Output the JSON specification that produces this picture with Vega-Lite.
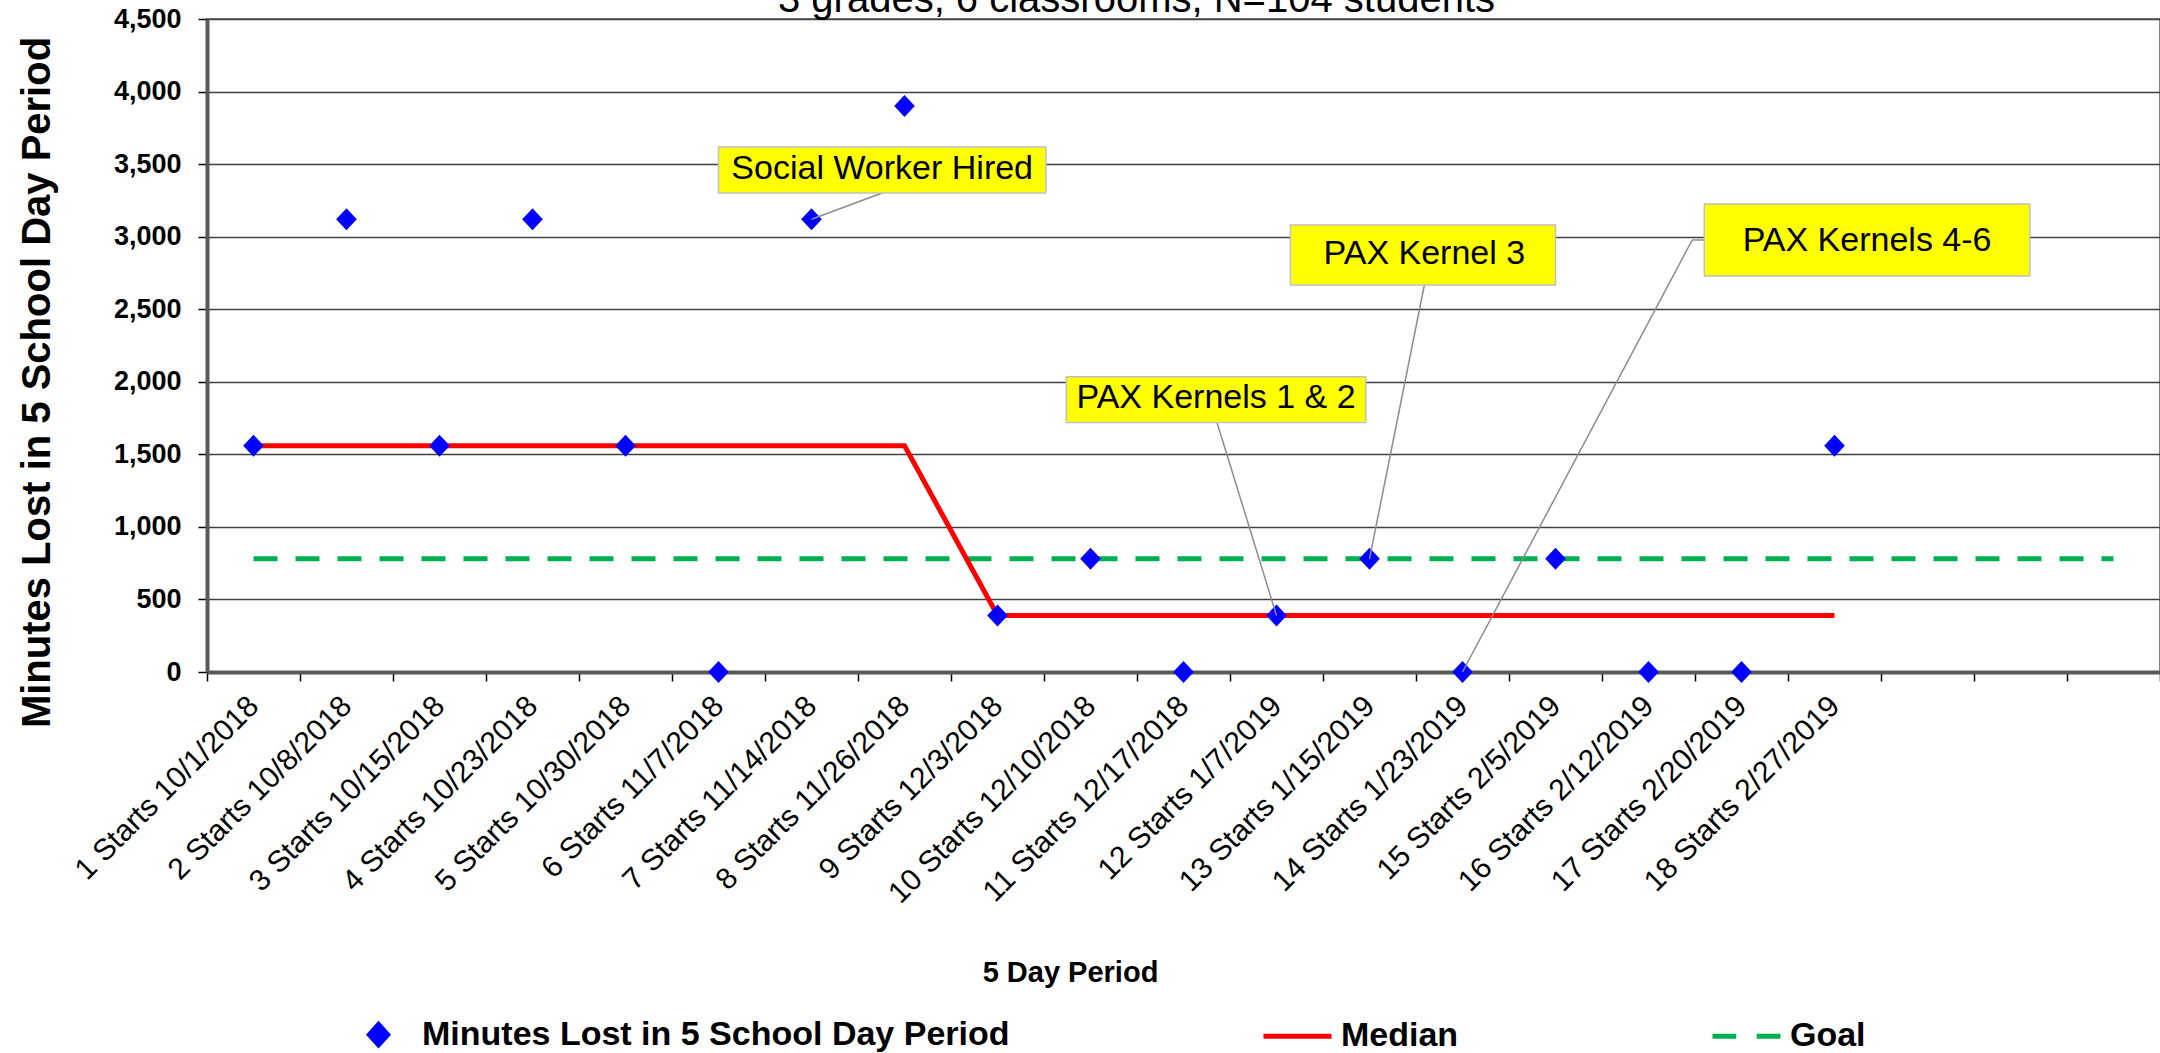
{
  "$schema": "https://vega.github.io/schema/vega-lite/v6.json",
  "width": 1953,
  "height": 653,
  "autosize": {"type": "none"},
  "padding": {"left": 207, "top": 19, "right": 0, "bottom": 381},
  "background": "white",
  "title": {
    "text": "3 grades, 6 classrooms, N=104 students",
    "fontSize": 40,
    "fontWeight": "normal",
    "font": "Liberation Sans",
    "color": "black",
    "anchor": "middle",
    "frame": "group",
    "dx": -47,
    "dy": 47,
    "baseline": "alphabetic",
    "offset": 0
  },
  "datasets": {
    "main": [
      {"idx": 1, "period": "1 Starts 10/1/2018", "minutes": 1560, "median": 1560, "goal": 780},
      {"idx": 2, "period": "2 Starts 10/8/2018", "minutes": 3120, "median": 1560, "goal": 780},
      {"idx": 3, "period": "3 Starts 10/15/2018", "minutes": 1560, "median": 1560, "goal": 780},
      {"idx": 4, "period": "4 Starts 10/23/2018", "minutes": 3120, "median": 1560, "goal": 780},
      {"idx": 5, "period": "5 Starts 10/30/2018", "minutes": 1560, "median": 1560, "goal": 780},
      {"idx": 6, "period": "6 Starts 11/7/2018", "minutes": 0, "median": 1560, "goal": 780},
      {"idx": 7, "period": "7 Starts 11/14/2018", "minutes": 3120, "median": 1560, "goal": 780},
      {"idx": 8, "period": "8 Starts 11/26/2018", "minutes": 3900, "median": 1560, "goal": 780},
      {"idx": 9, "period": "9 Starts 12/3/2018", "minutes": 390, "median": 390, "goal": 780},
      {"idx": 10, "period": "10 Starts 12/10/2018", "minutes": 780, "median": 390, "goal": 780},
      {"idx": 11, "period": "11 Starts 12/17/2018", "minutes": 0, "median": 390, "goal": 780},
      {"idx": 12, "period": "12 Starts 1/7/2019", "minutes": 390, "median": 390, "goal": 780},
      {"idx": 13, "period": "13 Starts 1/15/2019", "minutes": 780, "median": 390, "goal": 780},
      {"idx": 14, "period": "14 Starts 1/23/2019", "minutes": 0, "median": 390, "goal": 780},
      {"idx": 15, "period": "15 Starts 2/5/2019", "minutes": 780, "median": 390, "goal": 780},
      {"idx": 16, "period": "16 Starts 2/12/2019", "minutes": 0, "median": 390, "goal": 780},
      {"idx": 17, "period": "17 Starts 2/20/2019", "minutes": 0, "median": 390, "goal": 780},
      {"idx": 18, "period": "18 Starts 2/27/2019", "minutes": 1560, "median": 390, "goal": 780},
      {"idx": 19, "period": " ", "minutes": null, "median": null, "goal": 780},
      {"idx": 20, "period": "  ", "minutes": null, "median": null, "goal": 780},
      {"idx": 21, "period": "   ", "minutes": null, "median": null, "goal": 780}
    ],
    "notes": [
      {"note": "Social Worker Hired", "x1": 6.0, "x2": 9.52, "y1": 3301, "y2": 3618, "tx": 7.76, "ty": 3466},
      {"note": "PAX Kernels 1 & 2", "x1": 9.74, "x2": 12.96, "y1": 1720, "y2": 2035, "tx": 11.35, "ty": 1885},
      {"note": "PAX Kernel 3", "x1": 12.15, "x2": 15.0, "y1": 2667, "y2": 3080, "tx": 13.59, "ty": 2880},
      {"note": "PAX Kernels 4-6", "x1": 16.6, "x2": 20.1, "y1": 2729, "y2": 3225, "tx": 18.35, "ty": 2970}
    ],
    "leaders": [
      {"x1": 7.76, "y1": 3301, "x2": 7.0, "y2": 3120},
      {"x1": 11.36, "y1": 1720, "x2": 12.0, "y2": 390},
      {"x1": 13.59, "y1": 2667, "x2": 13.0, "y2": 780},
      {"x1": 16.6, "y1": 2977, "x2": 16.47, "y2": 2977},
      {"x1": 16.47, "y1": 2977, "x2": 14.0, "y2": 0}
    ]
  },
  "layer": [
    {
      "data": {"name": "main"},
      "layer": [
        {
          "mark": {"type": "line", "strokeWidth": 5, "strokeDash": [24, 18]},
          "encoding": {
            "x": {"field": "period", "type": "nominal", "title": "5 Day Period",
              "scale": {"type": "band", "paddingInner": 0, "paddingOuter": 0,
                "domain": ["1 Starts 10/1/2018", "2 Starts 10/8/2018", "3 Starts 10/15/2018", "4 Starts 10/23/2018", "5 Starts 10/30/2018", "6 Starts 11/7/2018", "7 Starts 11/14/2018", "8 Starts 11/26/2018", "9 Starts 12/3/2018", "10 Starts 12/10/2018", "11 Starts 12/17/2018", "12 Starts 1/7/2019", "13 Starts 1/15/2019", "14 Starts 1/23/2019", "15 Starts 2/5/2019", "16 Starts 2/12/2019", "17 Starts 2/20/2019", "18 Starts 2/27/2019", " ", "  ", "   "]},
              "axis": {"tickBand": "extent"}},
            "y": {"field": "goal", "type": "quantitative", "title": "Minutes Lost in 5 School Day Period",
              "scale": {"domain": [0, 4500], "nice": false},
              "axis": {"values": [0, 500, 1000, 1500, 2000, 2500, 3000, 3500, 4000, 4500], "format": ",.0f"}},
            "order": {"field": "idx", "type": "quantitative"},
            "color": {"datum": "Goal", "type": "nominal",
              "scale": {"domain": ["Minutes Lost in 5 School Day Period", "Median", "Goal"], "range": ["#0000FF", "#FF0000", "#00B050"]},
              "legend": {
                "orient": "none", "legendX": 135, "legendY": 979, "direction": "horizontal", "title": null,
                "symbolSize": 4624, "labelFontSize": 34, "labelFontWeight": "bold", "labelFont": "Liberation Sans",
                "labelColor": "black", "labelOffset": 7, "labelLimit": 1000, "columnPadding": 243, "padding": 0,
                "encode": {"symbols": {"update": {
                  "shape": {"signal": "datum.value === 'Median' ? 'M-1,0L1,0' : datum.value === 'Goal' ? 'M-1,0L-0.3,0M0.3,0L1,0' : 'M0,-0.3L0.27,0L0,0.3L-0.27,0Z'"},
                  "fill": {"signal": "datum.value === 'Median' || datum.value === 'Goal' ? 'transparent' : '#0000FF'"},
                  "stroke": {"signal": "datum.value === 'Median' ? '#FF0000' : datum.value === 'Goal' ? '#00B050' : 'transparent'"},
                  "strokeWidth": {"value": 5},
                  "opacity": {"value": 1}
                }}}
              }}
          }
        },
        {
          "mark": {"type": "line", "strokeWidth": 5},
          "encoding": {
            "x": {"field": "period", "type": "nominal", "title": "5 Day Period"},
            "y": {"field": "median", "type": "quantitative", "title": "Minutes Lost in 5 School Day Period", "scale": {"domain": [0, 4500], "nice": false}},
            "order": {"field": "idx", "type": "quantitative"},
            "color": {"datum": "Median", "type": "nominal"}
          }
        },
        {
          "mark": {"type": "point", "shape": "M0,-1L0.94,0L0,1L-0.94,0Z", "size": 484, "filled": true, "opacity": 1, "strokeWidth": 0},
          "encoding": {
            "x": {"field": "period", "type": "nominal", "title": "5 Day Period"},
            "y": {"field": "minutes", "type": "quantitative", "title": "Minutes Lost in 5 School Day Period", "scale": {"domain": [0, 4500], "nice": false}},
            "color": {"datum": "Minutes Lost in 5 School Day Period", "type": "nominal"}
          }
        }
      ]
    },
    {
      "layer": [
        {
          "data": {"name": "leaders"},
          "mark": {"type": "rule", "color": "#8c8c8c", "strokeWidth": 1.5},
          "encoding": {
            "x": {"field": "x1", "type": "quantitative", "scale": {"domain": [0.5, 21.5], "nice": false, "zero": false}, "axis": null},
            "x2": {"field": "x2"},
            "y": {"field": "y1", "type": "quantitative", "title": "Minutes Lost in 5 School Day Period", "scale": {"domain": [0, 4500], "nice": false}},
            "y2": {"field": "y2"}
          }
        },
        {
          "data": {"name": "notes"},
          "mark": {"type": "rect", "fill": "#FFFF00", "stroke": "#c0c0c0", "strokeWidth": 1.5},
          "encoding": {
            "x": {"field": "x1", "type": "quantitative", "axis": null},
            "x2": {"field": "x2"},
            "y": {"field": "y1", "type": "quantitative", "title": "Minutes Lost in 5 School Day Period", "scale": {"domain": [0, 4500], "nice": false}},
            "y2": {"field": "y2"}
          }
        },
        {
          "data": {"name": "notes"},
          "mark": {"type": "text", "fontSize": 34, "font": "Liberation Sans", "color": "black", "align": "center", "baseline": "middle"},
          "encoding": {
            "x": {"field": "tx", "type": "quantitative", "axis": null},
            "y": {"field": "ty", "type": "quantitative", "title": "Minutes Lost in 5 School Day Period", "scale": {"domain": [0, 4500], "nice": false}},
            "text": {"field": "note", "type": "nominal"}
          }
        }
      ]
    }
  ],
  "resolve": {"scale": {"x": "independent"}},
  "config": {
    "font": "Liberation Sans",
    "view": {"stroke": "#808080", "strokeWidth": 2},
    "axis": {"labelColor": "black", "titleColor": "black", "tickColor": "black", "tickWidth": 1.5, "tickSize": 9, "domainColor": "#595959", "domainWidth": 4, "labelFont": "Liberation Sans", "titleFont": "Liberation Sans"},
    "axisX": {"labelAngle": -45, "labelAlign": "right", "labelBaseline": "middle", "labelFontSize": 30, "labelFontWeight": "normal", "labelPadding": 20, "labelLimit": 1000, "labelOverlap": false, "grid": false, "titleFontSize": 29, "titleFontWeight": "bold", "titleX": 863, "titleY": 300, "titleAlign": "center", "titleBaseline": "middle"},
    "axisY": {"grid": true, "gridColor": "#404040", "gridWidth": 1.5, "labelFontSize": 27, "labelFontWeight": "bold", "labelPadding": 17, "titleFontSize": 40, "titleFontWeight": "bold", "titleX": -170, "titleY": 363, "titleAlign": "center", "titleBaseline": "middle", "titleAngle": -90}
  }
}
